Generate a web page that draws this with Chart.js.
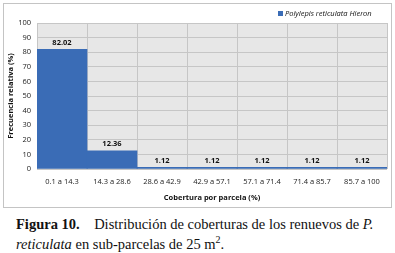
<!DOCTYPE html>
<html>
<head>
<meta charset="utf-8">
<script src="https://cdn.jsdelivr.net/npm/chart.js@4"></script>
<style>
  body { margin: 0; background: #fff; width: 395px; height: 253px; overflow: hidden; }
  #box { position: absolute; left: 3px; top: 3px; width: 387px; height: 203px; border: 1px solid #c4c4c4; }
  #cap { position: absolute; left: 16px; top: 217px; width: 378px; font-family: "Liberation Serif", serif; font-size: 14.5px; line-height: 15px; color: #111; }
</style>
</head>
<body>
<div id="box"><canvas id="chart" width="387" height="203"></canvas></div>
<div id="cap"><b>Figura 10.</b>&nbsp;&nbsp;&nbsp; Distribución de coberturas de los renuevos de <i>P.</i><br><i>reticulata</i> en sub-parcelas de 25 m<sup style="font-size:10px">2</sup>.</div>
<script>
const categories = ["0.1 a 14.3", "14.3 a 28.6", "28.6 a 42.9", "42.9 a 57.1", "57.1 a 71.4", "71.4 a 85.7", "85.7 a 100"];
const frecuencia = [82.02, 12.36, 1.12, 1.12, 1.12, 1.12, 1.12];
const seriesName = "Polylepis reticulata Hieron";
const xTitle = "Cobertura por parcela (%)";
const yTitle = "Frecuencia relativa (%)";
const barColor = "#3a6cb6";

// gray plot area behind the bars
const plotBg = {
  id: "plotBg",
  beforeDraw(chart) {
    const { ctx, chartArea: a } = chart;
    ctx.save();
    ctx.fillStyle = "#e7e7e7";
    ctx.fillRect(a.left, a.top, a.right - a.left, a.bottom - a.top);
    ctx.restore();
  }
};

// value on top of each bar, x title, small legend top right
const extras = {
  id: "extras",
  afterDatasetsDraw(chart) {
    const ctx = chart.ctx;
    const a = chart.chartArea;
    ctx.save();
    ctx.font = "bold 7.5px 'Open Sans'";
    ctx.fillStyle = "#111";
    ctx.textAlign = "center";
    ctx.textBaseline = "bottom";
    chart.getDatasetMeta(0).data.forEach((bar, i) => {
      ctx.fillText(frecuencia[i].toFixed(2), bar.x, bar.y - 3);
    });

    ctx.textBaseline = "middle";
    ctx.fillText(xTitle, (a.left + a.right) / 2, 194);

    ctx.fillStyle = barColor;
    ctx.fillRect(274, 7, 5, 5);
    ctx.fillStyle = "#111";
    ctx.font = "italic 7.5px 'Open Sans'";
    ctx.textAlign = "left";
    ctx.fillText(seriesName, 281, 9.5);
    ctx.restore();
  }
};

new Chart(document.getElementById("chart"), {
  type: "bar",
  data: {
    labels: categories,
    datasets: [{
      label: seriesName,
      data: frecuencia,
      backgroundColor: barColor,
      borderWidth: 0,
      barPercentage: 1,
      categoryPercentage: 1
    }]
  },
  options: {
    responsive: false,
    animation: false,
    layout: { padding: { left: 0, right: 4, top: 19, bottom: 13 } },
    plugins: {
      legend: { display: false },
      tooltip: { enabled: false }
    },
    scales: {
      x: {
        grid: { color: "#c6c6c6", offset: true, drawTicks: false },
        border: { display: false },
        ticks: { color: "#222", font: { family: "'Open Sans'", size: 7.5 }, padding: 8, maxRotation: 0 },
        title: { display: false }
      },
      y: {
        min: 0, max: 100,
        grid: { color: "#c6c6c6", drawTicks: false },
        border: { display: false },
        ticks: { stepSize: 10, color: "#222", font: { family: "'Open Sans'", size: 7.5 }, padding: 6 },
        title: { display: true, text: yTitle, color: "#111", font: { family: "'Open Sans'", size: 7.5, weight: "bold" }, padding: 2 },
        afterFit(scale) { scale.width = 33; }
      }
    }
  },
  plugins: [plotBg, extras]
});
</script>
</body>
</html>
